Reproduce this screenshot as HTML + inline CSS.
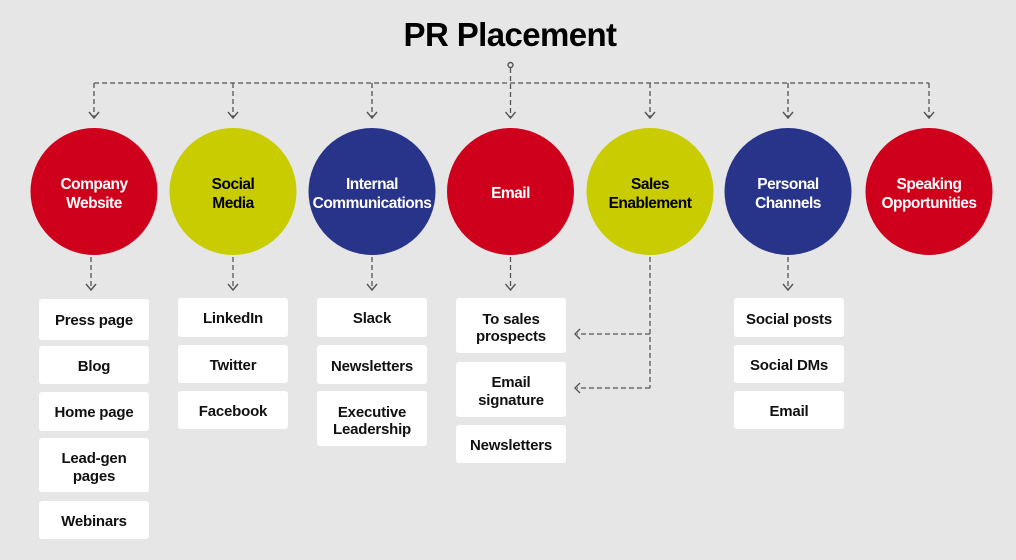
<!DOCTYPE html>
<html><head><meta charset="utf-8"><style>
body{margin:0;background:#e6e6e6;}
svg{display:block;font-family:"Liberation Sans",Arial,sans-serif;}
.c{font-size:15.5px;font-weight:bold;text-anchor:middle;letter-spacing:-0.5px;}
.b{font-size:15px;font-weight:bold;text-anchor:middle;fill:#111;letter-spacing:-0.2px;}
.d{stroke:#555;stroke-width:1.3;stroke-dasharray:5,3;fill:none;}
.a{stroke:#555;stroke-width:1.4;fill:none;}
</style></head><body>
<svg width="1016" height="560" viewBox="0 0 1016 560">
<rect width="1016" height="560" fill="#e6e6e6"/>
<text x="510" y="46" text-anchor="middle" font-size="33" font-weight="bold" letter-spacing="-0.6" fill="#000">PR Placement</text>
<circle cx="510.5" cy="65" r="2.5" class="a"/>
<path class="d" d="M510.5 68V117 M94 83H929 M94 83V117 M233 83V117 M372 83V117 M650 83V117 M788 83V117 M929 83V117"/>
<g class="a">
<path d="M89 112l5 6 5-6M228 112l5 6 5-6M367 112l5 6 5-6M505.5 112l5 6 5-6M645 112l5 6 5-6M783 112l5 6 5-6M924 112l5 6 5-6"/>
<path d="M86 284l5 6 5-6M228 284l5 6 5-6M367 284l5 6 5-6M505.5 284l5 6 5-6M783 284l5 6 5-6"/>
<path d="M580 329l-5 5 5 5M580 383l-5 5 5 5"/>
</g>
<path class="d" d="M91 257V289 M233 257V289 M372 257V289 M510.5 257V289 M788 257V289 M650 257V388 M650 334H577 M650 388H577"/>
<circle cx="94" cy="191.5" r="63.5" fill="#cf001b"/>
<circle cx="233" cy="191.5" r="63.5" fill="#c8cc00"/>
<circle cx="372" cy="191.5" r="63.5" fill="#28338a"/>
<circle cx="510.5" cy="191.5" r="63.5" fill="#cf001b"/>
<circle cx="650" cy="191.5" r="63.5" fill="#c8cc00"/>
<circle cx="788" cy="191.5" r="63.5" fill="#28338a"/>
<circle cx="929" cy="191.5" r="63.5" fill="#cf001b"/>
<g class="c" fill="#fff">
<text x="94" y="189">Company</text><text x="94" y="208">Website</text>
<text x="372" y="189">Internal</text><text x="372" y="208">Communications</text>
<text x="510.5" y="198">Email</text>
<text x="788" y="189">Personal</text><text x="788" y="208">Channels</text>
<text x="929" y="189">Speaking</text><text x="929" y="208">Opportunities</text>
</g>
<g class="c" fill="#000">
<text x="233" y="189">Social</text><text x="233" y="208">Media</text>
<text x="650" y="189">Sales</text><text x="650" y="208">Enablement</text>
</g>
<g fill="#fff">
<rect x="39" y="299" width="110" height="41" rx="3"/>
<rect x="39" y="346" width="110" height="38" rx="3"/>
<rect x="39" y="392" width="110" height="39" rx="3"/>
<rect x="39" y="438" width="110" height="54" rx="3"/>
<rect x="39" y="501" width="110" height="38" rx="3"/>
<rect x="178" y="298" width="110" height="39" rx="3"/>
<rect x="178" y="345" width="110" height="38" rx="3"/>
<rect x="178" y="391" width="110" height="38" rx="3"/>
<rect x="317" y="298" width="110" height="39" rx="3"/>
<rect x="317" y="345" width="110" height="39" rx="3"/>
<rect x="317" y="391" width="110" height="55" rx="3"/>
<rect x="456" y="298" width="110" height="55" rx="3"/>
<rect x="456" y="362" width="110" height="55" rx="3"/>
<rect x="456" y="425" width="110" height="38" rx="3"/>
<rect x="734" y="298" width="110" height="39" rx="3"/>
<rect x="734" y="345" width="110" height="38" rx="3"/>
<rect x="734" y="391" width="110" height="38" rx="3"/>
</g>
<g class="b">
<text x="94" y="325">Press page</text>
<text x="94" y="371">Blog</text>
<text x="94" y="417">Home page</text>
<text x="94" y="463">Lead-gen</text><text x="94" y="481">pages</text>
<text x="94" y="526">Webinars</text>
<text x="233" y="323">LinkedIn</text>
<text x="233" y="370">Twitter</text>
<text x="233" y="416">Facebook</text>
<text x="372" y="323">Slack</text>
<text x="372" y="371">Newsletters</text>
<text x="372" y="417">Executive</text><text x="372" y="434">Leadership</text>
<text x="511" y="324">To sales</text><text x="511" y="341">prospects</text>
<text x="511" y="387">Email</text><text x="511" y="405">signature</text>
<text x="511" y="450">Newsletters</text>
<text x="789" y="324">Social posts</text>
<text x="789" y="370">Social DMs</text>
<text x="789" y="416">Email</text>
</g>
</svg>
</body></html>
